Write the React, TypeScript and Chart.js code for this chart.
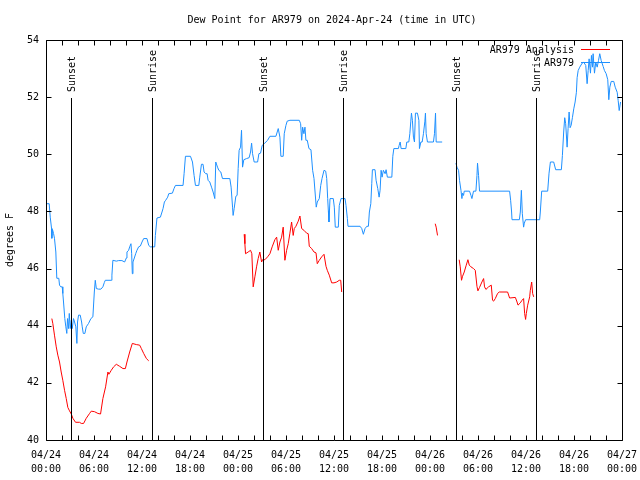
import { useEffect, useRef } from "react";
import { Chart, registerables } from "chart.js";

Chart.register(...registerables);

const TITLE = "Dew Point for AR979 on 2024-Apr-24 (time in UTC)";
const Y_TITLE = "degrees F";
const FONT = "DejaVu Sans Mono";

// x values are hours since 2024-04-24 00:00 UTC
const X_TICK_HOURS = [0, 6, 12, 18, 24, 30, 36, 42, 48, 54, 60, 66, 72];
const X_TICK_DATES = ["04/24", "04/24", "04/24", "04/24", "04/25", "04/25", "04/25", "04/25", "04/26", "04/26", "04/26", "04/26", "04/27"];
const X_TICK_TIMES = ["00:00", "06:00", "12:00", "18:00", "00:00", "06:00", "12:00", "18:00", "00:00", "06:00", "12:00", "18:00", "00:00"];
const Y_TICKS = [40, 42, 44, 46, 48, 50, 52, 54];

const SUN_LABELS = ["Sunset", "Sunrise", "Sunset", "Sunrise", "Sunset", "Sunrise"];
const SUN_HOURS = [3.1, 13.25, 27.15, 37.17, 51.2, 61.2];

const SERIES_NAMES = ["AR979 Analysis", "AR979"];
const SERIES_COLORS = ["#ff0000", "#1e90ff"];

// AR979 observations (null = gap)
const OBS_HOURS = [
  0, 0.4, 0.53, 0.69, 0.73, 0.81, 0.94, 1.06, 1.23, 1.35, 1.6, 1.69, 1.85, 2.03, 2.1, 2.19, 2.35, 2.48, 2.6, 2.69,
  2.82, 2.91, 3.03, 3.16, 3.28, 3.44, 3.57, 3.73, 3.86, 3.94, 4.07, 4.28, 4.45, 4.53, 4.66, 4.86, 5.03, 5.32, 5.61, 5.86,
  6.04, 6.16, 6.29, 6.57, 6.86, 7.11, 7.29, 7.41, 8.16, 8.24, 8.36, 8.79, 9.08, 9.49, 9.83, 10.04, 10.12, 10.33, 10.46, 10.62,
  10.71, 10.79, 10.87, 11.04, 11.21, 11.37, 11.58, 11.8, 12.0, 12.21, 12.62, 12.84, 13.05, 13.59, 13.67, 13.87, 14.3, 14.5, 14.63, 14.8,
  14.96, 15.21, 15.34, 15.8, 16.0, 16.18, 17.13, 17.26, 17.43, 18.06, 18.31, 18.51, 18.68, 19.1, 19.22, 19.43, 19.63, 19.76, 19.97, 20.14,
  20.26, 20.47, 20.69, 20.89, 21.1, 21.22, 21.44, 21.6, 21.85, 22.06, 22.98, 23.14, 23.32, 23.39, 23.52, 23.73, 23.89, 24.02, 24.14, 24.32,
  24.44, 24.57, 24.73, 25.07, 25.39, 25.57, 25.7, 25.82, 26.02, 26.45, 26.61, 26.82, 27.02, 27.27, 27.7, 27.99, 28.74, 29.03, 29.24, 29.36,
  29.65, 29.78, 29.99, 30.15, 30.49, 31.66, 31.83, 31.96, 32.08, 32.24, 32.37, 32.49, 32.66, 32.87, 33.12, 33.33, 33.5, 33.62, 33.78, 33.91,
  34.16, 34.34, 34.5, 34.75, 34.96, 35.09, 35.21, 35.29, 35.37, 35.5, 35.91, 36.04, 36.16, 36.54, 36.66, 36.88, 37.38, 37.5, 37.67, 37.75,
  39.26, 39.47, 39.67, 39.88, 40.1, 40.3, 40.42, 40.6, 40.72, 40.8, 41.13, 41.26, 41.47, 41.64, 41.76, 41.89, 42.01, 42.17, 42.39, 42.51,
  42.67, 43.23, 43.35, 43.48, 44.05, 44.14, 44.27, 44.39, 44.98, 45.1, 45.35, 45.48, 45.6, 45.68, 45.8, 45.93, 46.06, 46.18, 46.43, 46.61,
  46.68, 46.86, 47.02, 47.18, 47.36, 47.43, 47.52, 47.68, 48.43, 48.56, 48.69, 48.77, 49.52, 50.4,
  51.24, 51.37, 51.57, 51.69, 51.87, 51.99, 52.07, 52.19, 52.28, 52.94, 53.12, 53.24, 53.44, 53.74, 53.87, 53.94, 54.07, 54.19, 57.95, 58.08,
  58.2, 58.25, 59.17, 59.29, 59.42, 59.54, 59.7, 59.79, 59.95, 61.71, 61.79, 61.96, 62.71, 62.88, 63.05, 63.46, 63.71, 64.42, 64.55, 64.71,
  64.84, 64.96, 65.14, 65.26, 65.39, 65.51, 65.64, 65.8, 65.97, 66.14, 66.3, 66.39, 66.52, 66.72, 67.02, 67.22, 67.47, 67.64, 67.77, 67.89,
  68.06, 68.18, 68.31, 68.39, 68.56, 68.72, 68.9, 69.06, 69.22, 69.4, 69.65, 69.81, 70.02, 70.22, 70.35, 70.48, 70.65, 70.97, 71.15, 71.4,
  71.52, 71.65, 71.82,
];
const OBS_VALUES = [
  48.27, 48.27, 47.8, 47.41, 47.06, 47.37, 47.23, 47.06, 46.58, 45.66, 45.66, 45.42, 45.36, 45.36, 45.13, 44.83, 44.25, 43.96, 43.73, 44.25,
  43.9, 44.43, 43.9, 44.19, 43.9, 44.25, 44.13, 43.96, 43.38, 44.13, 44.37, 44.37, 44.13, 43.96, 43.73, 43.73, 43.96, 44.08, 44.25, 44.31,
  45.18, 45.59, 45.3, 45.28, 45.28, 45.36, 45.51, 45.59, 45.59, 45.77, 46.29, 46.26, 46.28, 46.28, 46.23, 46.37, 46.58, 46.64, 46.76, 46.87,
  46.52, 45.82, 46.23, 46.37, 46.52, 46.64, 46.76, 46.79, 46.93, 47.05, 47.05, 46.81, 46.76, 46.76, 47.16, 47.77, 47.8, 47.98, 48.1, 48.33,
  48.39, 48.5, 48.62, 48.64, 48.8, 48.91, 48.91, 49.32, 49.93, 49.93, 49.73, 49.26, 48.91, 48.91, 49.2, 49.65, 49.65, 49.38, 49.32, 49.32,
  49.09, 49.03, 48.85, 48.68, 48.45, 49.73, 49.55, 49.44, 49.38, 49.15, 49.15, 48.85, 48.15, 47.86, 48.1, 48.53, 48.56, 49.5, 50.14, 50.25,
  50.84, 49.55, 49.81, 49.85, 49.88, 50.08, 50.39, 50.02, 49.73, 49.73, 50.02, 50.04, 50.31, 50.37, 50.49, 50.63, 50.63, 50.9, 50.6, 49.93,
  49.93, 50.72, 51.01, 51.16, 51.19, 51.19, 51.07, 50.49, 50.95, 50.72, 50.95, 50.49, 50.49, 50.2, 50.16, 49.44, 49.15, 49.15, 48.15, 48.33,
  48.45, 48.91, 49.15, 49.44, 49.41, 49.15, 48.45, 48.04, 47.63, 48.45, 48.45, 48.15, 47.45, 47.45, 48.21, 48.45, 48.45, 48.21, 47.75, 47.48,
  47.48, 47.4, 47.2, 47.4, 47.48, 47.48, 47.98, 48.27, 48.97, 49.46, 49.46, 49.09, 48.8, 48.5, 48.74, 49.44, 49.2, 49.44, 49.32, 49.46,
  49.2, 49.2, 49.93, 50.2, 50.2, 50.31, 50.43, 50.2, 50.2, 50.43, 50.43, 50.72, 51.16, 51.44, 51.19, 50.6, 50.43, 51.44, 51.44, 51.19,
  50.2, 50.43, 50.43, 50.72, 51.16, 51.44, 50.72, 50.43, 50.43, 50.72, 51.44, 50.43, 50.43, null,
  49.69, 49.55, 49.44, 49.09, 48.74, 48.45, 48.64, 48.56, 48.71, 48.71, 48.56, 48.45, 48.71, 48.71, 49.26, 49.69, 49.26, 48.71, 48.71, 48.39,
  47.98, 47.71, 47.71, 47.98, 48.74, 47.92, 47.45, 47.59, 47.71, 47.71, 47.98, 48.71, 48.71, 49.34, 49.73, 49.73, 49.46, 49.46, 49.96, 50.78,
  51.28, 51.07, 50.25, 50.9, 51.48, 50.93, 51.01, 51.28, 51.59, 51.83, 52.17, 52.68, 52.93, 53.05, 53.19, 53.22, 53.11, 52.47, 52.93, 53.34,
  52.84, 53.46, 53.05, 53.52, 52.84, 53.22, 53.05, 53.28, 53.52, 53.28, 53.07, 52.93, 52.82, 52.61, 51.91, 52.35, 52.55, 52.55, 52.35, 52.17,
  51.88, 51.53, 51.83,
];

// AR979 Analysis (null = gap)
const ANA_HOURS = [
  0.73, 0.85, 1.06, 1.28, 1.48, 1.69, 1.9, 2.1, 2.32, 2.53, 2.73, 2.94, 3.16, 3.36, 3.69, 4.19, 4.41, 4.7, 5.03, 5.45,
  5.66, 6.07, 6.49, 6.82, 7.11, 7.45, 7.74, 7.86, 8.16, 8.45, 8.79, 9.2, 9.62, 9.92, 10.12, 10.46, 10.79, 11.29, 11.71, 11.92,
  12.21, 12.55, 12.84, 18.0,
  24.77, 24.86, 24.94, 25.27, 25.57, 25.73, 25.9, 26.11, 26.32, 26.52, 26.73, 26.95, 27.07, 27.36, 27.7, 27.99, 28.27, 28.61, 28.83, 29.03,
  29.24, 29.45, 29.65, 29.86, 30.08, 30.28, 30.49, 30.7, 30.9, 31.03, 31.24, 31.53, 31.74, 31.96, 32.24, 32.58, 32.78, 32.91, 33.21, 33.5,
  33.75, 33.91, 34.16, 34.46, 34.75, 35.0, 35.16, 35.41, 35.71, 36.0, 36.34, 36.66, 36.84, 36.96, 42.0,
  48.65, 48.77, 48.94, 50.0,
  51.65, 51.78, 51.94, 52.07, 52.28, 52.53, 52.74, 52.91, 53.12, 53.44, 53.66, 53.87, 53.99, 54.19, 54.49, 54.7, 54.82, 54.99, 55.32, 55.66,
  55.82, 55.95, 56.16, 56.45, 56.66, 57.7, 57.95, 58.67, 58.88, 59.0, 59.29, 59.5, 59.7, 59.83, 59.95, 60.04, 60.21, 60.46, 60.54, 60.71,
  60.83, 60.96,
];
const ANA_VALUES = [
  44.25, 44.08, 43.67, 43.26, 42.97, 42.73, 42.38, 42.09, 41.74, 41.45, 41.14, 41.02, 40.91, 40.76, 40.62, 40.62, 40.58, 40.58, 40.76, 40.93,
  41.01, 40.99, 40.93, 40.91, 41.45, 41.86, 42.38, 42.3, 42.44, 42.56, 42.65, 42.58, 42.5, 42.5, 42.73, 43.08, 43.38, 43.34, 43.32, 43.2,
  43.03, 42.85, 42.77, null,
  47.2, 46.87, 46.52, 46.58, 46.64, 46.52, 45.36, 45.71, 46.06, 46.35, 46.58, 46.23, 46.31, 46.31, 46.41, 46.52, 46.76, 47.01, 47.1, 46.64,
  46.93, 47.1, 47.45, 46.29, 46.64, 46.87, 47.24, 47.63, 47.16, 47.4, 47.48, 47.66, 47.84, 47.4, 47.34, 47.24, 47.22, 46.78, 46.7, 46.58,
  46.55, 46.17, 46.29, 46.41, 46.5, 46.08, 45.94, 45.77, 45.5, 45.5, 45.53, 45.59, 45.59, 45.18, null,
  47.57, 47.45, 47.16, null,
  46.31, 46.06, 45.59, 45.73, 45.88, 46.12, 46.31, 46.12, 46.06, 46.0, 45.94, 45.38, 45.22, 45.34, 45.53, 45.65, 45.36, 45.27, 45.36, 45.42,
  44.89, 44.86, 44.95, 45.13, 45.18, 45.18, 44.97, 44.99, 44.83, 44.72, 44.8, 44.89, 44.95, 44.43, 44.22, 44.43, 44.72, 45.01, 45.24, 45.53,
  45.13, 45.01,
];

const toPoints = (xs: number[], ys: (number | null)[]) => xs.map((x, i) => ({ x, y: ys[i] }));

const decorPlugin = {
  id: "decor",
  afterDatasetsDraw(chart: any) {
    const { ctx, chartArea: a, scales } = chart;
    const xs = scales.x;
    const ys = scales.y;
    ctx.save();
    ctx.strokeStyle = "#000";
    ctx.fillStyle = "#000";
    ctx.lineWidth = 1;

    // sunrise / sunset lines
    const lineTop = 98;
    SUN_HOURS.forEach((h, i) => {
      const px = Math.round(xs.getPixelForValue(h)) + 0.5;
      ctx.beginPath();
      ctx.moveTo(px, a.bottom);
      ctx.lineTo(px, lineTop);
      ctx.stroke();
      ctx.save();
      ctx.translate(px + 1, lineTop - 6);
      ctx.rotate(-Math.PI / 2);
      ctx.font = `10px ${FONT}`;
      ctx.textAlign = "left";
      ctx.textBaseline = "middle";
      ctx.fillText(SUN_LABELS[i], 0, 0);
      ctx.restore();
    });

    // border
    const L = Math.round(a.left) + 0.5;
    const R = Math.round(a.right) + 0.5;
    const T = Math.round(a.top) + 0.5;
    const B = Math.round(a.bottom) + 0.5;
    ctx.beginPath();
    ctx.rect(L, T, R - L, B - T);
    ctx.stroke();

    // ticks (inward, mirrored)
    const tl = 5;
    ctx.beginPath();
    for (let h = 0; h <= 72; h += 2) {
      const px = Math.round(xs.getPixelForValue(h)) + 0.5;
      ctx.moveTo(px, B);
      ctx.lineTo(px, B - tl);
      ctx.moveTo(px, T);
      ctx.lineTo(px, T + tl);
    }
    Y_TICKS.forEach((v) => {
      const py = Math.round(ys.getPixelForValue(v)) + 0.5;
      ctx.moveTo(L, py);
      ctx.lineTo(L + tl, py);
      ctx.moveTo(R, py);
      ctx.lineTo(R - tl, py);
    });
    ctx.stroke();

    // title
    ctx.font = `10px ${FONT}`;
    ctx.textAlign = "center";
    ctx.textBaseline = "middle";
    ctx.fillText(TITLE, 332, 20);

    // y title
    ctx.save();
    ctx.translate(10, 240);
    ctx.rotate(-Math.PI / 2);
    ctx.fillText(Y_TITLE, 0, 0);
    ctx.restore();

    // legend
    const legendY = [49.5, 62.5];
    SERIES_NAMES.forEach((name, i) => {
      ctx.fillStyle = "#000";
      ctx.textAlign = "right";
      ctx.fillText(name, 574, legendY[i] + 1);
      ctx.strokeStyle = SERIES_COLORS[i];
      ctx.beginPath();
      ctx.moveTo(581, legendY[i]);
      ctx.lineTo(610, legendY[i]);
      ctx.stroke();
    });
    ctx.restore();
  },
};

export default function App() {
  const ref = useRef<HTMLCanvasElement | null>(null);
  useEffect(() => {
    if (!ref.current) return;
    const chart = new Chart(ref.current, {
      type: "line",
      data: {
        datasets: [
          {
            label: SERIES_NAMES[0],
            data: toPoints(ANA_HOURS, ANA_VALUES),
            borderColor: SERIES_COLORS[0],
            borderWidth: 1,
            pointRadius: 0,
            spanGaps: false,
            tension: 0,
          },
          {
            label: SERIES_NAMES[1],
            data: toPoints(OBS_HOURS, OBS_VALUES),
            borderColor: SERIES_COLORS[1],
            borderWidth: 1,
            pointRadius: 0,
            spanGaps: false,
            tension: 0,
          },
        ],
      },
      options: {
        animation: false,
        responsive: false,
        events: [],
        layout: { padding: { top: 40, right: 18, left: 0, bottom: 0 } },
        plugins: { legend: { display: false }, title: { display: false }, tooltip: { enabled: false } },
        scales: {
          x: {
            type: "linear",
            min: 0,
            max: 72,
            border: { display: false },
            grid: { display: false, drawTicks: false },
            afterFit: (s: any) => {
              s.height = 40;
              s.paddingLeft = 0;
              s.paddingRight = 0;
            },
            afterBuildTicks: (s: any) => {
              s.ticks = X_TICK_HOURS.map((v) => ({ value: v }));
            },
            ticks: {
              padding: 9,
              maxRotation: 0,
              autoSkip: false,
              color: "#000",
              font: { family: FONT, size: 10, lineHeight: 1.35 },
              callback: (v: any) => {
                const i = X_TICK_HOURS.indexOf(Number(v));
                return i >= 0 ? [X_TICK_DATES[i], X_TICK_TIMES[i]] : "";
              },
            },
          },
          y: {
            min: 40,
            max: 54,
            border: { display: false },
            grid: { display: false, drawTicks: false },
            afterFit: (s: any) => {
              s.width = 46;
              s.paddingTop = 0;
              s.paddingBottom = 0;
            },
            afterBuildTicks: (s: any) => {
              s.ticks = Y_TICKS.map((v) => ({ value: v }));
            },
            ticks: {
              padding: 7,
              color: "#000",
              font: { family: FONT, size: 10 },
              callback: (v: any) => String(v),
            },
          },
        },
      },
      plugins: [decorPlugin],
    });
    return () => chart.destroy();
  }, []);
  return (
    <div style={{ position: "absolute", left: 0, top: 0, width: 640, height: 480, background: "#fff" }}>
      <canvas ref={ref} width={640} height={480} style={{ display: "block" }} />
    </div>
  );
}
